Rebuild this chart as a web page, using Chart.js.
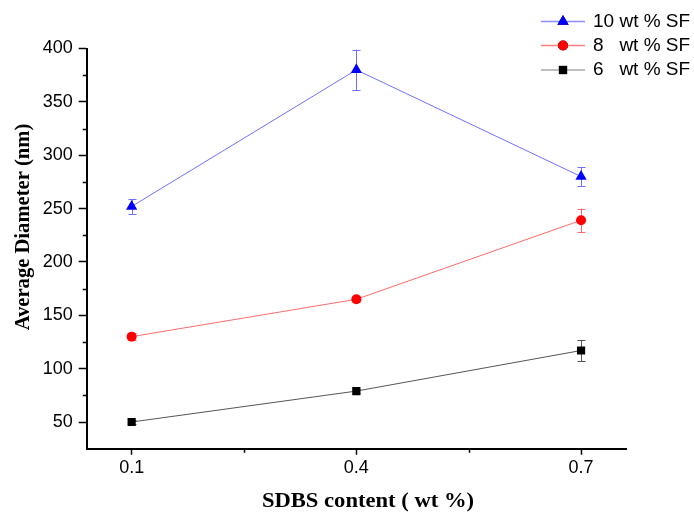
<!DOCTYPE html>
<html>
<head>
<meta charset="utf-8">
<script src="https://cdn.jsdelivr.net/npm/chart.js@4"></script>
<style>
  html, body { margin: 0; padding: 0; background: #fff; }
  #wrap { width: 694px; height: 517px; }
</style>
</head>
<body>
<div id="wrap"><canvas id="c" width="694" height="517"></canvas></div>
<script>
// SDBS content (wt %) on the x axis
const sdbs = [0.1, 0.4, 0.7];
const xTicks = [0.1, 0.4, 0.7];
const xMinor = [0.25, 0.55];
const yTicks = [50, 100, 150, 200, 250, 300, 350, 400];
const yMinor = [75, 125, 175, 225, 275, 325, 375];

// Average fibre diameter (nm) and its spread, per silk fibroin concentration
const sf10 = [252, 380, 280];
const sf10Err = [7, 19, 9];
const sf8 = [130, 165, 239];
const sf8Err = [3, 3, 11];
const sf6 = [50, 79, 117];
const sf6Err = [1.5, 2, 10];

const legendNames = ['10 wt % SF', '8   wt % SF', '6   wt % SF'];

const TICK_FONT = { family: '"Liberation Sans", Arial, sans-serif', size: 18 };
const TITLE_FONT = 'bold 20px "Liberation Serif", "Times New Roman", serif';

function series(label, values, errs, lineColor, markColor, style, radius, legendColor) {
  return {
    label,
    data: values.map((v, i) => ({ x: sdbs[i], y: v })),
    errors: errs,
    legendColor,
    borderColor: lineColor,
    borderWidth: 1,
    backgroundColor: markColor,
    pointBackgroundColor: markColor,
    pointBorderColor: markColor,
    pointBorderWidth: 0,
    pointStyle: style,
    pointRadius: radius,
    pointHoverRadius: radius,
    tension: 0
  };
}

const decorations = {
  id: 'decorations',
  beforeDatasetsDraw(chart) {
    const ctx = chart.ctx;
    const xs = chart.scales.x, ys = chart.scales.y;
    ctx.save();
    // error bars with caps
    chart.data.datasets.forEach(ds => {
      ctx.strokeStyle = ds.borderColor;
      ctx.lineWidth = 1;
      ds.data.forEach((p, i) => {
        const e = ds.errors[i];
        const px = Math.round(xs.getPixelForValue(p.x)) + 0.5;
        const yTop = ys.getPixelForValue(p.y + e);
        const yBot = ys.getPixelForValue(p.y - e);
        ctx.beginPath();
        ctx.moveTo(px, yTop); ctx.lineTo(px, yBot);
        ctx.moveTo(px - 4, Math.round(yTop) + 0.5); ctx.lineTo(px + 4, Math.round(yTop) + 0.5);
        ctx.moveTo(px - 4, Math.round(yBot) + 0.5); ctx.lineTo(px + 4, Math.round(yBot) + 0.5);
        ctx.stroke();
      });
    });
    ctx.restore();
  },
  afterDraw(chart) {
    const ctx = chart.ctx;
    const xs = chart.scales.x, ys = chart.scales.y;
    const area = chart.chartArea;
    ctx.save();
    // minor ticks
    ctx.strokeStyle = '#000';
    ctx.lineWidth = 1.5;
    ctx.beginPath();
    xMinor.forEach(v => {
      const px = Math.round(xs.getPixelForValue(v)) + 0.5;
      ctx.moveTo(px, area.bottom); ctx.lineTo(px, area.bottom + 4);
    });
    yMinor.forEach(v => {
      const py = Math.round(ys.getPixelForValue(v)) + 0.5;
      ctx.moveTo(area.left, py); ctx.lineTo(area.left - 4, py);
    });
    ctx.stroke();

    // axis titles
    ctx.fillStyle = '#000';
    ctx.font = TITLE_FONT;
    ctx.textAlign = 'center';
    ctx.textBaseline = 'middle';
    ctx.translate(368, 502);
    ctx.scale(1.13, 1.02);
    ctx.fillText('SDBS content ( wt %)', 0, 0);
    ctx.setTransform(1, 0, 0, 1, 0, 0);
    ctx.translate(24, 227);
    ctx.rotate(-Math.PI / 2);
    ctx.scale(1.03, 1);
    ctx.fillText('Average Diameter (nm)', 0, 0);
    ctx.setTransform(1, 0, 0, 1, 0, 0);

    // legend: line sample with marker, then name
    const rowsY = [21.5, 45.5, 70];
    chart.data.datasets.forEach((ds, i) => {
      const y = rowsY[i];
      ctx.strokeStyle = ds.legendColor;
      ctx.lineWidth = 1.5;
      ctx.beginPath();
      ctx.moveTo(541, y); ctx.lineTo(585, y);
      ctx.stroke();
      Chart.helpers.drawPoint(ctx, {
        pointStyle: ds.pointStyle, radius: ds.pointRadius, borderWidth: 0
      }, 563, y);
      ctx.fillStyle = ds.pointBackgroundColor;
      ctx.fill();
      ctx.fillStyle = '#000';
      ctx.font = '19px "Liberation Sans", Arial, sans-serif';
      ctx.textAlign = 'left';
      ctx.textBaseline = 'middle';
      ctx.fillText(legendNames[i], 593, y);
    });
    ctx.restore();
  }
};

new Chart(document.getElementById('c'), {
  type: 'line',
  data: {
    datasets: [
      series('10 wt % SF', sf10, sf10Err, '#7070ff', '#0000ff', 'triangle', 6.5, '#8c8cff'),
      series('8 wt % SF', sf8, sf8Err, '#ff6a6a', '#ff0000', 'circle', 5, '#ff8080'),
      series('6 wt % SF', sf6, sf6Err, '#555555', '#000000', 'rect', 5.8, '#aaaaaa')
    ]
  },
  options: {
    responsive: false,
    animation: false,
    events: [],
    layout: { padding: { left: 0, top: 48.5, right: 68, bottom: 0 } },
    plugins: { legend: { display: false }, tooltip: { enabled: false } },
    scales: {
      x: {
        type: 'linear',
        min: 0.04,
        max: 0.76,
        afterBuildTicks: s => { s.ticks = xTicks.map(v => ({ value: v })); },
        afterFit: s => { s.height = 517 - 448.7; },
        grid: { display: true, drawOnChartArea: false, drawTicks: true, tickLength: 6, tickColor: '#000', tickWidth: 1.5 },
        border: { display: true, color: '#000', width: 2 },
        ticks: { color: '#000', font: TICK_FONT, padding: 3, maxRotation: 0, callback: v => v.toFixed(1) }
      },
      y: {
        type: 'linear',
        min: 25,
        max: 400,
        afterBuildTicks: s => { s.ticks = yTicks.map(v => ({ value: v })); },
        afterFit: s => { s.width = 86.7; },
        grid: { display: true, drawOnChartArea: false, drawTicks: true, tickLength: 8, tickColor: '#000', tickWidth: 1.5 },
        border: { display: true, color: '#000', width: 2 },
        ticks: { color: '#000', font: TICK_FONT, padding: 6, callback: v => String(v) }
      }
    }
  },
  plugins: [decorations]
});
</script>
</body>
</html>
